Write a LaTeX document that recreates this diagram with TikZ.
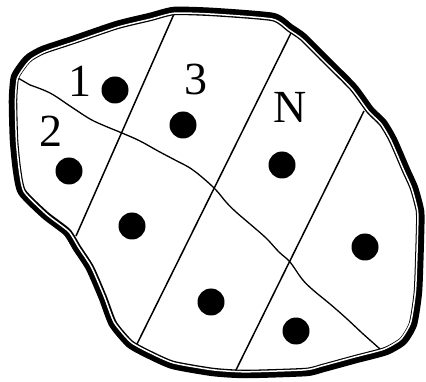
\documentclass[tikz,border=0pt]{standalone}
\usepackage{fontspec}
\setmainfont{Liberation Serif}
\begin{document}
\begin{tikzpicture}[x=1pt,y=-1pt,
  dot/.style={circle,fill=black,inner sep=0pt,minimum size=27pt},
  lbl/.style={inner sep=0pt,font=\fontsize{46}{46}\selectfont},
  cut/.style={line width=1.5pt,black},
  wave/.style={line width=1.3pt,black}]
\useasboundingbox (0,0) rectangle (426,382);
\def\outline{(15,77) (24,63) (30,57) (43,50) (73,40) (117,25) (150,17) (174,11) (213,12) (273,17) (290,28) (303,37) (323,57) (353,87) (370,110) (383,123) (393,140) (406,170) (414,188) (420,211) (420,234) (418,291) (413,324) (403,341) (386,351) (356,359) (323,368) (306,372) (246,374) (213,372) (173,365) (150,355) (130,344) (113,324) (103,298) (90,268) (77,248) (67,232) (45,215) (22,192) (17,170) (14,140) (13,100)}
% cut lines
\coordinate (a1) at (174,14);
\coordinate (a2) at (76,236);
\coordinate (b1) at (291,33);
\coordinate (b2) at (137,344);
\coordinate (c1) at (364,111);
\coordinate (c2) at (235,372);
\draw[cut] (a1) -- (a2);
\draw[cut] (b1) -- (b2);
\draw[cut] (c1) -- (c2);
% wavy line
\coordinate (w1) at (18,78);
\coordinate (w2) at (380,349);
\draw[wave] (w1) -- plot[smooth,tension=0.6] coordinates {(30,85) (50,93) (70,106) (90,119) (105,126) (122,133) (140,141) (158,151) (175,160) (190,168) (203,178) (216,190) (226,202) (236,212) (250,224) (266,238) (279,252) (290,262) (302,279) (313,290) (330,304) (346,318) (362,333)} -- (w2);
% outline
\draw[line width=8.5pt,black,line join=round] plot[smooth cycle,tension=0.35] coordinates \outline;
\begin{scope}[shift={(215,192)},scale=0.988,shift={(-215,-192)}]
\draw[line width=1.5pt,white,line join=round] plot[smooth cycle,tension=0.35] coordinates \outline;
\end{scope}
% dots
\node[dot] (d1) at (115,90) {};
\node[dot] (d2) at (69,171) {};
\node[dot] (d3) at (183,125) {};
\node[dot] (dN) at (282,165) {};
\node[dot] (d5) at (132,226) {};
\node[dot] (d6) at (211,302) {};
\node[dot] (d7) at (365,247) {};
\node[dot] (d8) at (296,331) {};
% labels
\node[lbl] (l1) at (80,81) {1};
\node[lbl] (l2) at (51,131) {2};
\node[lbl] (l3) at (196,79) {3};
\node[lbl] (lN) at (290.5,107.5) {N};
\end{tikzpicture}
\end{document}
